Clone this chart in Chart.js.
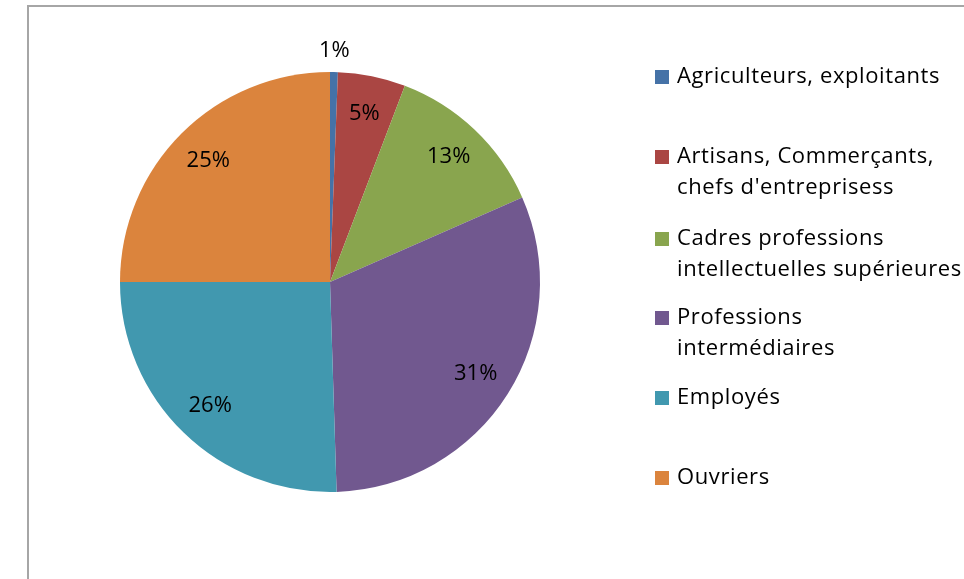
<!DOCTYPE html>
<html>
<head>
<meta charset="utf-8">
<script src="https://cdn.jsdelivr.net/npm/chart.js@4"></script>
<style>
  html, body { margin: 0; padding: 0; background: #fff; }
  #wrap { width: 964px; height: 579px; }
</style>
</head>
<body>
<div id="wrap"><canvas id="graphique"></canvas></div>
<script>
// Données
const categories = [
  "Agriculteurs, exploitants",
  "Artisans, Commerçants, chefs d'entreprisess",
  "Cadres professions intellectuelles supérieures",
  "Professions intermédiaires",
  "Employés",
  "Ouvriers"
];
// lignes de la légende (comme dans l'original)
const lignesLegende = [
  ["Agriculteurs, exploitants"],
  ["Artisans, Commerçants,", "chefs d'entreprisess"],
  ["Cadres professions", "intellectuelles supérieures"],
  ["Professions", "intermédiaires"],
  ["Employés"],
  ["Ouvriers"]
];
const valeurs = [0.6, 5.2, 12.6, 31.1, 25.5, 25.0];
const couleurs = ['#4572a7', '#aa4643', '#89a54e', '#71588f', '#4198af', '#db843d'];

const police = '"Open Sans", sans-serif';

// cadre gris autour du graphique
const cadre = {
  id: 'cadre',
  beforeDraw(chart) {
    const ctx = chart.ctx;
    ctx.save();
    ctx.strokeStyle = '#a6a6a6';
    ctx.lineWidth = 2;
    ctx.strokeRect(28, 6, 1000, 700);
    ctx.restore();
  }
};

// pourcentages sur les parts
const etiquettes = {
  id: 'etiquettes',
  afterDatasetsDraw(chart) {
    const ctx = chart.ctx;
    const meta = chart.getDatasetMeta(0);
    const total = valeurs.reduce((a, b) => a + b, 0);
    ctx.save();
    ctx.font = '22px ' + police;
    ctx.fillStyle = '#000';
    ctx.textAlign = 'center';
    ctx.textBaseline = 'middle';
    meta.data.forEach((arc, i) => {
      const p = arc.getProps(['x', 'y', 'startAngle', 'endAngle', 'outerRadius'], true);
      const mid = (p.startAngle + p.endAngle) / 2;
      const pct = Math.round(valeurs[i] / total * 100);
      const k = pct < 3 ? 1.1 : 0.82;
      const x = p.x + Math.cos(mid) * p.outerRadius * k;
      const y = p.y + Math.sin(mid) * p.outerRadius * k;
      ctx.fillText(pct + '%', x, y);
    });
    ctx.restore();
  }
};

// légende à droite
const legende = {
  id: 'legende',
  afterDraw(chart) {
    const ctx = chart.ctx;
    const hauts = [77, 157, 239, 318, 398, 478];
    ctx.save();
    ctx.font = '22px ' + police;
    ctx.letterSpacing = '0.6px';
    ctx.textBaseline = 'middle';
    lignesLegende.forEach((lignes, i) => {
      ctx.fillStyle = couleurs[i];
      ctx.fillRect(655, hauts[i] - 7, 14, 14);
      ctx.fillStyle = '#000';
      lignes.forEach((t, j) => {
        ctx.fillText(t, 677, hauts[i] + j * 31);
      });
    });
    ctx.restore();
  }
};

new Chart(document.getElementById('graphique'), {
  type: 'pie',
  data: {
    labels: categories,
    datasets: [{
      data: valeurs,
      backgroundColor: couleurs,
      borderWidth: 0
    }]
  },
  options: {
    responsive: true,
    maintainAspectRatio: false,
    animation: false,
    layout: { padding: { left: 120, right: 424, top: 72, bottom: 87 } },
    plugins: {
      legend: { display: false },
      tooltip: { enabled: false }
    }
  },
  plugins: [cadre, etiquettes, legende]
});
</script>
</body>
</html>
